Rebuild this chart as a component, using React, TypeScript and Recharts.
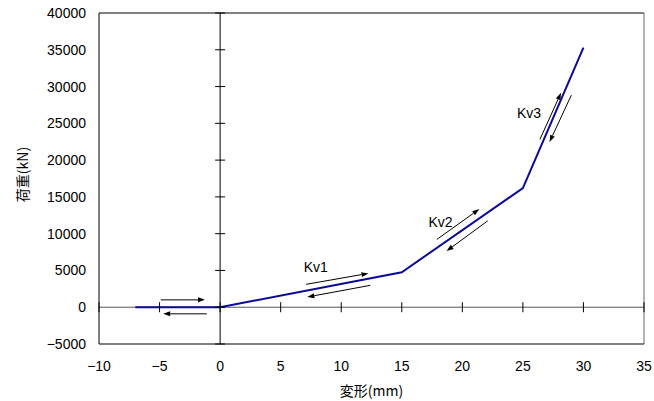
import React from 'react';
import {
  LineChart,
  Line,
  XAxis,
  YAxis,
  ReferenceLine,
  ReferenceDot,
} from 'recharts';

// Load-deformation curve
const deformation = [-7, 0, 15, 25, 30];
const load = [0, 0, 4750, 16200, 35300];

const xTicks = [-10, -5, 0, 5, 10, 15, 20, 25, 30, 35];
const yTicks = [-5000, 0, 5000, 10000, 15000, 20000, 25000, 30000, 35000, 40000];

// annotation arrows: from (x, y) -> to (x, y)
const arrowFromX = [-4.9, -1.1, 7.1, 12.4, 17.9, 22.1, 26.4, 29.0];
const arrowFromY = [1000, -900, 3110, 2975, 9220, 11750, 22800, 28830];
const arrowToX = [-1.25, -4.7, 12.25, 7.2, 21.4, 18.7, 28.15, 27.2];
const arrowToY = [1000, -900, 4600, 1390, 13340, 7640, 29150, 22450];

const labelNames = ['Kv1', 'Kv2', 'Kv3'];
const labelX = [7.9, 18.2, 25.5];
const labelY = [5470, 11600, 26350];

const data = deformation.map((x, i) => ({ x, y: load[i] }));

const FONT = '"Liberation Sans", Arial, sans-serif';
const JFONT = '"Noto Sans CJK JP", sans-serif';

const ArrowShape = (props: any) => {
  const { x1, y1, x2, y2 } = props;
  const ang = Math.atan2(y2 - y1, x2 - x1);
  const len = 7;
  const hw = 2.5;
  const bx = x2 - len * Math.cos(ang);
  const by = y2 - len * Math.sin(ang);
  const px = -Math.sin(ang) * hw;
  const py = Math.cos(ang) * hw;
  return (
    <g>
      <line x1={x1} y1={y1} x2={bx} y2={by} stroke="#000" strokeWidth={1} />
      <polygon points={`${x2},${y2} ${bx + px},${by + py} ${bx - px},${by - py}`} fill="#000" />
    </g>
  );
};

const VTick = (props: any) => {
  const { cx, cy } = props;
  return <line x1={cx} y1={cy - 5} x2={cx} y2={cy + 5} stroke="#000" strokeWidth={1} />;
};
const HTick = (props: any) => {
  const { cx, cy } = props;
  return <line x1={cx - 5} y1={cy} x2={cx + 5} y2={cy} stroke="#000" strokeWidth={1} />;
};

const makeTextShape = (txt: string) => (props: any) => {
  const { cx, cy } = props;
  return (
    <text x={cx} y={cy} textAnchor="middle" dominantBaseline="central" fontFamily={FONT} fontSize={14} fill="#000">
      {txt}
    </text>
  );
};

const fmt = (v: number) => String(v).replace('-', '\u2212');

export default function App() {
  return (
    <div style={{ position: 'absolute', left: 0, top: 0, background: '#fff' }}>
      <LineChart width={654} height={401} data={data} margin={{ top: 13, right: 10, bottom: 0, left: 0 }}>
        <XAxis
          type="number"
          dataKey="x"
          domain={[-10, 35]}
          ticks={xTicks}
          interval={0}
          tickFormatter={fmt}
          tickLine={false}
          tickSize={0}
          tickMargin={17}
          height={57}
          axisLine={{ stroke: '#000', strokeWidth: 1 }}
          tick={{ fill: '#000', fontSize: 14, fontFamily: FONT }}
          allowDataOverflow
          label={{ value: '変形(mm)', position: 'insideBottom', offset: 5, fill: '#000', fontSize: 14, fontFamily: JFONT }}
        />
        <YAxis
          type="number"
          domain={[-5000, 40000]}
          ticks={yTicks}
          interval={0}
          tickFormatter={fmt}
          tickLine={false}
          tickSize={0}
          tickMargin={13}
          width={99}
          axisLine={{ stroke: '#000', strokeWidth: 1 }}
          tick={{ fill: '#000', fontSize: 14, fontFamily: FONT }}
          allowDataOverflow
          label={{
            content: (p: any) => {
              const vb = p.viewBox;
              const cx = vb.x + 22;
              const cy = vb.y + vb.height / 2 - 4;
              return (
                <text
                  x={cx}
                  y={cy}
                  textAnchor="middle"
                  dominantBaseline="central"
                  transform={`rotate(-90, ${cx}, ${cy})`}
                  fontFamily={JFONT}
                  fontSize={14}
                  fill="#000"
                >
                  荷重(kN)
                </text>
              );
            },
          }}
        />
        <ReferenceLine y={40000} stroke="#000" strokeWidth={1} />
        <ReferenceLine x={35} stroke="#666" strokeWidth={1} />
        <ReferenceLine y={0} stroke="#555" strokeWidth={1} />
        <ReferenceLine x={0} stroke="#000" strokeWidth={1} />
        {xTicks.map((t) => (
          <ReferenceDot key={'xt' + t} x={t} y={0} r={0} shape={VTick} />
        ))}
        {yTicks.map((t) => (
          <ReferenceDot key={'yt' + t} x={0} y={t} r={0} shape={HTick} />
        ))}
        {arrowFromX.map((_, i) => (
          <ReferenceLine
            key={'ar' + i}
            segment={[
              { x: arrowFromX[i], y: arrowFromY[i] },
              { x: arrowToX[i], y: arrowToY[i] },
            ]}
            shape={ArrowShape}
          />
        ))}
        {labelNames.map((n, i) => (
          <ReferenceDot key={n} x={labelX[i]} y={labelY[i]} r={0} shape={makeTextShape(n)} />
        ))}
        <Line
          type="linear"
          dataKey="y"
          stroke="#0a0a96"
          strokeWidth={2}
          dot={false}
          isAnimationActive={false}
        />
      </LineChart>
    </div>
  );
}
